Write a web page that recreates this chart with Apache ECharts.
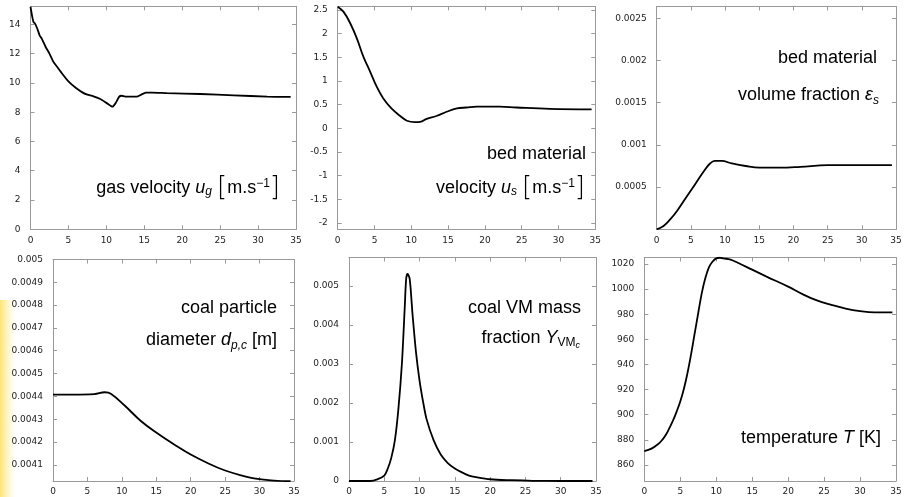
<!DOCTYPE html>
<html><head><meta charset="utf-8">
<script src="https://cdn.jsdelivr.net/npm/echarts@6.0.0/dist/echarts.min.js"></script>
<style>html,body{margin:0;padding:0;background:#fff}#c{width:905px;height:497px}</style>
</head><body><div id="c"></div>
<script>
// ---------- data ----------
const xTicks = [0, 5, 10, 15, 20, 25, 30, 35];

const gasX = [0, 0.2, 0.4, 0.6, 0.9, 1.2, 1.5, 2.0, 2.5, 3.0, 3.5, 4.0, 5.0, 6.0, 7.0, 7.5, 8.3, 9.2, 10.1, 10.8, 11.2, 11.7, 12.0, 12.5, 14.0, 14.6, 15.2, 16, 18, 22.4, 26.8, 31.2, 34.3];
const gasY = [15.2, 14.6, 14.15, 14.05, 13.7, 13.25, 13.0, 12.45, 12.0, 11.45, 11.1, 10.75, 10.1, 9.65, 9.3, 9.2, 9.08, 8.9, 8.6, 8.38, 8.6, 9.06, 9.12, 9.06, 9.06, 9.2, 9.33, 9.34, 9.3, 9.24, 9.15, 9.06, 9.04];
const gasTicks = [0, 2, 4, 6, 8, 10, 12, 14];

const bedVelX = [0, 0.8, 1.7, 2.6, 3.5, 4.4, 5.3, 6.2, 7.3, 8.5, 9.4, 10.5, 11.2, 12.1, 13.4, 14.8, 16.2, 17.5, 18.9, 22, 24.3, 28.8, 34.5];
const bedVelY = [2.57, 2.46, 2.22, 1.90, 1.51, 1.20, 0.88, 0.63, 0.42, 0.26, 0.16, 0.13, 0.135, 0.2, 0.26, 0.35, 0.42, 0.44, 0.46, 0.46, 0.44, 0.41, 0.40];
const bedVelTicks = [-2, -1.5, -1, -0.5, 0, 0.5, 1, 1.5, 2, 2.5];

const bedFracX = [0, 1, 2, 3, 4, 5, 6, 7, 7.8, 8.5, 9.5, 11, 13, 15, 18, 21, 25, 30, 34.4];
const bedFracY = [0, 0.00004, 0.00012, 0.00022, 0.00034, 0.00046, 0.00058, 0.0007, 0.00078, 0.00081, 0.00081, 0.00078, 0.00075, 0.00073, 0.00073, 0.00074, 0.00076, 0.00076, 0.00076];
const bedFracTicks = [0.0005, 0.001, 0.0015, 0.002, 0.0025];

const diamX = [0, 3, 6, 7.5, 8.4, 10.4, 12.8, 15.2, 17.6, 20, 22.5, 24.9, 27.3, 29.7, 32.1, 34.5];
const diamY = [0.004408, 0.004408, 0.00441, 0.004418, 0.004412, 0.00436, 0.004291, 0.004237, 0.004189, 0.004145, 0.004107, 0.004076, 0.004054, 0.004038, 0.004031, 0.004028];
const diamTicks = [0.0041, 0.0042, 0.0043, 0.0044, 0.0045, 0.0046, 0.0047, 0.0048, 0.0049, 0.005];

const vmX = [0, 3, 4, 5, 5.5, 6, 6.5, 7, 7.5, 7.9, 8.1, 8.3, 8.6, 9, 9.5, 10, 10.5, 11, 12, 13, 14, 15, 16, 17, 18, 20, 23, 26, 30, 34.5];
const vmY = [0, 0, 0.00004, 0.00014, 0.00032, 0.0006, 0.00104, 0.00185, 0.00302, 0.00446, 0.00518, 0.00531, 0.00518, 0.00428, 0.00329, 0.00257, 0.00203, 0.00158, 0.00104, 0.00068, 0.00046, 0.00032, 0.00022, 0.00014, 0.0001, 0.000045, 0.00002, 0.000005, 0, 0];
const vmTicks = [0, 0.001, 0.002, 0.003, 0.004, 0.005];

const tempX = [0, 1, 2, 2.5, 3, 3.5, 4, 4.5, 5, 5.5, 6, 6.5, 7, 7.5, 8, 8.5, 9, 9.5, 10, 10.5, 11, 12, 13, 15, 17, 20, 22, 24, 26, 28, 30, 32, 34.5];
const tempY = [871, 873, 877, 880, 884, 889.5, 895.5, 902.5, 910.5, 920.5, 933, 948, 964.5, 981, 997, 1009, 1017.5, 1022, 1024.5, 1025, 1024.5, 1023.5, 1021, 1015.5, 1010, 1002, 996, 991, 987.5, 984.5, 982.5, 981.5, 981.5];
const tempTicks = [860, 880, 900, 920, 940, 960, 980, 1000, 1020];

// ---------- layout ----------
const panels = [
  {x: gasX, y: gasY, ticks: gasTicks, box: [30.5, 6.3, 265.5, 223], yr: [0, 15.23], smooth: 0.2},
  {x: bedVelX, y: bedVelY, ticks: bedVelTicks, box: [337.7, 6.3, 257.6, 223], yr: [-2.133, 2.578], smooth: 0.4},
  {x: bedFracX, y: bedFracY, ticks: bedFracTicks, box: [656.7, 6.5, 239.3, 222.8], yr: [0, 0.00264], smooth: 0.4},
  {x: diamX, y: diamY, ticks: diamTicks, box: [53, 259.5, 241, 221.5], yr: [0.004029, 0.005], smooth: 0.4},
  {x: vmX, y: vmY, ticks: vmTicks, box: [349, 257.5, 247, 223.5], yr: [0, 0.00573], smooth: 0.3},
  {x: tempX, y: tempY, ticks: tempTicks, box: [644.3, 257.5, 251.7, 223.5], yr: [847.2, 1025.2], smooth: 0.4}
];

const AX = '#9a9a9a';
const labelFont = {fontSize: 9, fontFamily: 'DejaVu Sans', color: '#222'};
const grids = [], xAxes = [], yAxes = [], series = [];
panels.forEach((p, i) => {
  grids.push({left: p.box[0], top: p.box[1], width: p.box[2], height: p.box[3], show: false});
  ['bottom', 'top'].forEach((pos, k) => {
    xAxes.push({type: 'value', gridIndex: i, position: pos, min: 0, max: 35,
      axisLine: {show: true, onZero: false, lineStyle: {color: AX, width: 1}},
      axisTick: {show: true, inside: true, length: 4, customValues: xTicks, lineStyle: {color: AX}},
      axisLabel: Object.assign({show: k === 0, margin: i < 3 ? 7 : 6, customValues: xTicks, formatter: v => String(v)}, labelFont),
      splitLine: {show: false}});
  });
  ['left', 'right'].forEach((pos, k) => {
    yAxes.push({type: 'value', gridIndex: i, position: pos, min: p.yr[0], max: p.yr[1],
      axisLine: {show: true, onZero: false, lineStyle: {color: AX, width: 1}},
      axisTick: {show: true, inside: true, length: 4, customValues: p.ticks, lineStyle: {color: AX}},
      axisLabel: Object.assign({show: k === 0, margin: 10, customValues: p.ticks, formatter: v => String(v)}, labelFont),
      splitLine: {show: false}});
  });
  series.push({type: 'line', xAxisIndex: 2 * i, yAxisIndex: 2 * i,
    data: p.x.map((xv, j) => [xv, p.y[j]]), showSymbol: false, symbol: 'none',
    smooth: p.smooth, clip: true,
    lineStyle: {color: '#000', width: 1.8}, animation: false});
});

// ---------- annotations ----------
const F = 'Liberation Sans, Arial, sans-serif';
const rich = {
  n: {fontSize: 18, fontFamily: F, color: '#111'},
  i: {fontSize: 18, fontFamily: F, fontStyle: 'italic', color: '#111'},
  sub: {fontSize: 12, fontFamily: F, fontStyle: 'italic', color: '#111', verticalAlign: 'top', padding: [11, 0, 0, 0]},
  subn: {fontSize: 12, fontFamily: F, color: '#111', verticalAlign: 'top', padding: [11, 0, 0, 0]},
  subsub: {fontSize: 9, fontFamily: F, fontStyle: 'italic', color: '#111', verticalAlign: 'top', padding: [15, 0, 0, 0]},
  sup: {fontSize: 12, fontFamily: F, color: '#111', verticalAlign: 'bottom', padding: [0, 0, 11, 0]},
  br: {fontSize: 26, fontFamily: 'DejaVu Sans', fontWeight: 200, color: '#111', lineHeight: 26}
};
const notes = [
  ['{n|gas velocity }{i|u}{sub|g}{n| }{br|[}{n|m.s}{sup|−1}{br|]}', 280, 188],
  ['{n|bed material}', 586, 154],
  ['{n|velocity }{i|u}{sub|s}{n| }{br|[}{n|m.s}{sup|−1}{br|]}', 585, 188],
  ['{n|bed material}', 877, 58],
  ['{n|volume fraction }{i|ε}{sub|s}', 879, 95],
  ['{n|coal particle}', 277, 308],
  ['{n|diameter }{i|d}{sub|p,c}{n| [m]}', 277, 340],
  ['{n|coal VM mass}', 581, 308],
  ['{n|fraction }{i|Y}{subn|VM}{subsub|c}', 580, 338],
  ['{n|temperature }{i|T}{n| [K]}', 881, 438]
];
const graphic = [{
  type: 'rect', left: 0, top: 300, shape: {width: 16, height: 197}, silent: true, z: -1,
  style: {fill: new echarts.graphic.LinearGradient(0, 0, 1, 0, [
    {offset: 0, color: 'rgba(255,205,0,0.55)'}, {offset: 1, color: 'rgba(255,235,120,0)'}])}
}].concat(notes.map(n => ({
  type: 'text', x: n[1], y: n[2], silent: true,
  style: {text: n[0], rich: rich, align: 'right', verticalAlign: 'middle'}
})));

const chart = echarts.init(document.getElementById('c'), null, {renderer: 'canvas'});
chart.setOption({animation: false, backgroundColor: '#fff', grid: grids, xAxis: xAxes, yAxis: yAxes, series: series, graphic: graphic});
</script></body></html>
